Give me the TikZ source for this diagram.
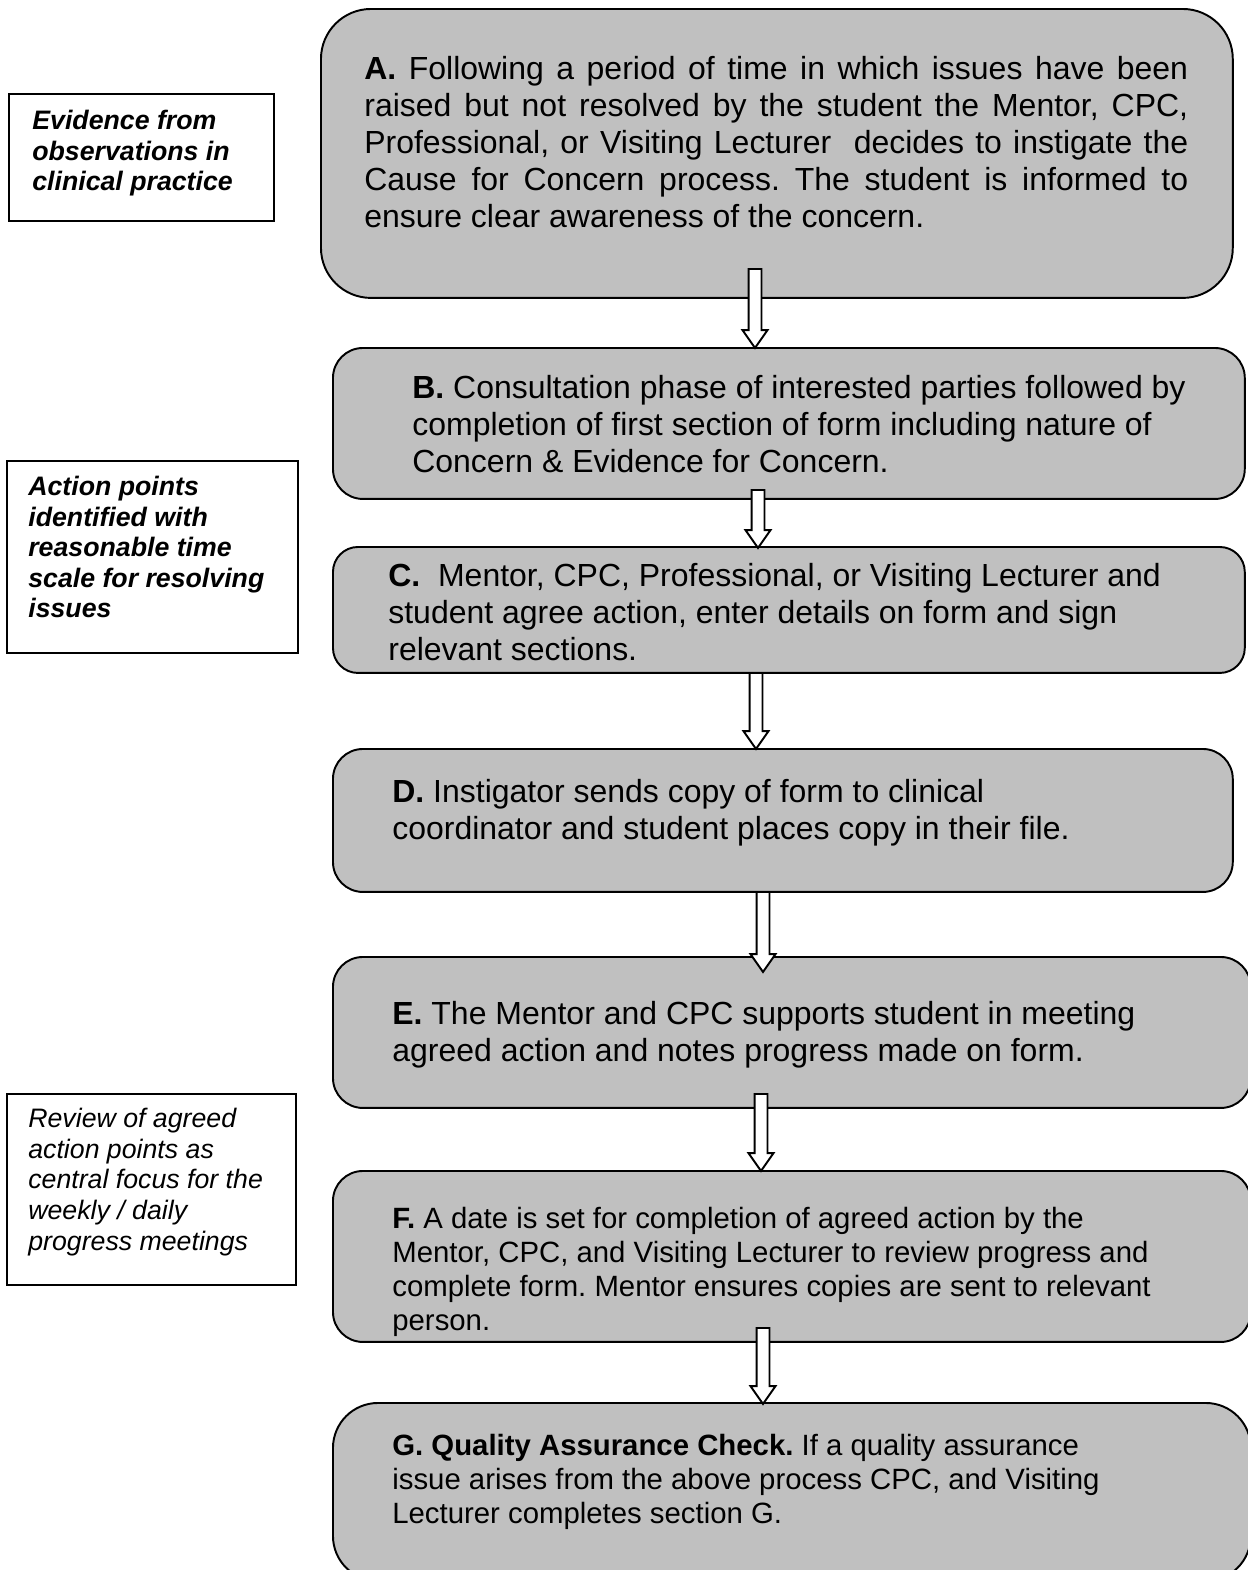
\documentclass[tikz,border=0pt]{standalone}
\usepackage{fontspec}
\setmainfont{Liberation Sans}
\usepackage{tikz}
\usetikzlibrary{shapes.arrows,positioning}
\frenchspacing

\definecolor{boxgray}{HTML}{C0C0C0}

\tikzset{
  stagebox/.style={rectangle, draw, fill=boxgray, line width=1.1pt, anchor=north west, inner sep=0pt},
  notebox/.style={rectangle, draw, line width=0.9pt, anchor=north west, inner sep=0pt},
  stagetext/.style={anchor=north west, inner sep=0pt, align=left, font=\fontsize{18.2}{21}\selectfont},
  smalltext/.style={anchor=north west, inner sep=0pt, align=left, font=\fontsize{16.7}{19.3}\selectfont},
  notetext/.style={anchor=north west, inner sep=0pt, align=left, font=\fontsize{15.2}{17.4}\selectfont\itshape},
  downarrow/.style={single arrow, draw, fill=white, line width=1.1pt, shape border rotate=270,
    anchor=tail, inner sep=0.11cm, single arrow head extend=0.12cm, single arrow tip angle=70}
}

\begin{document}
\begin{tikzpicture}[x=0.02cm, y=-0.02cm]
\useasboundingbox (0,0) rectangle (1248,1570);

% flow boxes
\node[stagebox, rounded corners=1cm, minimum width=18.24cm, minimum height=5.78cm] (boxA) at (320,8) {};
\node[stagebox, rounded corners=0.6cm, minimum width=18.24cm, minimum height=3.02cm] (boxB) at (332,347) {};
\node[stagebox, rounded corners=0.5cm, minimum width=18.24cm, minimum height=2.52cm] (boxC) at (332,546) {};
\node[stagebox, rounded corners=0.6cm, minimum width=18cm, minimum height=2.86cm] (boxD) at (332,748) {};
\node[stagebox, rounded corners=0.6cm, minimum width=18.36cm, minimum height=3.02cm] (boxE) at (332,956) {};
\node[stagebox, rounded corners=0.6cm, minimum width=18.36cm, minimum height=3.42cm] (boxF) at (332,1170) {};
\node[stagebox, rounded corners=0.9cm, minimum width=18.36cm, minimum height=3.56cm] (boxG) at (332,1402) {};

% texts
\node[stagetext, text width=16.48cm, align=justify] (textA) at (364,56)
  {\textbf{A.} Following a period of time in which issues have been\linebreak
   raised but not resolved by the student the Mentor, CPC,\linebreak
   Professional, or Visiting Lecturer\ \ decides to instigate the\linebreak
   Cause for Concern process. The student is informed to\linebreak
   ensure clear awareness of the concern.};
\node[stagetext] (textB) at (412,375)
  {\textbf{B.} Consultation phase of interested parties followed by\\
   completion of first section of form including nature of\\
   Concern \& Evidence for Concern.};
\node[stagetext] (textC) at (388,563)
  {\textbf{C.}\ \ Mentor, CPC, Professional, or Visiting Lecturer and\\
   student agree action, enter details on form and sign\\
   relevant sections.};
\node[stagetext] (textD) at (392,779)
  {\textbf{D.} Instigator sends copy of form to clinical\\
   coordinator and student places copy in their file.};
\node[stagetext] (textE) at (392,1001)
  {\textbf{E.} The Mentor and CPC supports student in meeting\\
   agreed action and notes progress made on form.};
\node[smalltext] (textF) at (392,1207)
  {\textbf{F.} A date is set for completion of agreed action by the\\
   Mentor, CPC, and Visiting Lecturer to review progress and\\
   complete form. Mentor ensures copies are sent to relevant\\
   person.};
\node[smalltext] (textG) at (392,1434)
  {\textbf{G. Quality Assurance Check.} If a quality assurance\\
   issue arises from the above process CPC, and Visiting\\
   Lecturer completes section G.};

% side notes
\node[notebox, minimum width=5.3cm, minimum height=2.54cm] (noteA) at (8,93) {};
\node[notebox, minimum width=5.82cm, minimum height=3.84cm] (noteC) at (6,460) {};
\node[notebox, minimum width=5.78cm, minimum height=3.82cm] (noteF) at (6,1093) {};
\node[notetext, font=\fontsize{15.2}{17.4}\selectfont\bfseries\itshape] (noteAtext) at (32,110)
  {Evidence from\\ observations in\\ clinical practice};
\node[notetext, font=\fontsize{15.2}{17.4}\selectfont\bfseries\itshape] (noteCtext) at (28,476)
  {Action points\\ identified with\\ reasonable time\\ scale for resolving\\ issues};
\node[notetext] (noteFtext) at (28,1108)
  {Review of agreed\\ action points as\\ central focus for the\\ weekly / daily\\ progress meetings};

% arrows between stages
\node[downarrow, minimum height=1.58cm] (arrAB) at (755,268) {};
\node[downarrow, minimum height=1.16cm] (arrBC) at (758,489) {};
\node[downarrow, minimum height=1.52cm] (arrCD) at (756,672) {};
\node[downarrow, minimum height=1.6cm] (arrDE) at (763,891) {};
\node[downarrow, minimum height=1.54cm] (arrEF) at (761,1093) {};
\node[downarrow, minimum height=1.52cm] (arrFG) at (763,1327) {};
\end{tikzpicture}
\end{document}
